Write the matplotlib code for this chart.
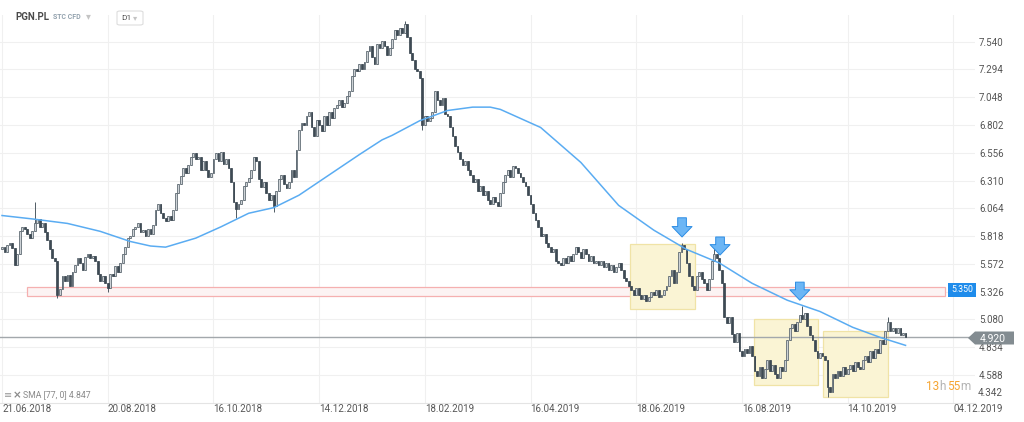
import matplotlib
matplotlib.use("Agg")
import matplotlib.pyplot as plt
from matplotlib.patches import Rectangle, Polygon, FancyBboxPatch

plt.rcParams['font.family'] = ['Roboto', 'DejaVu Sans']

# daily closes, PGN.PL from 21.06.2018 (one value per trading day)
closes = [
    5.72, 5.68, 5.74, 5.76, 5.71, 5.56, 5.66, 5.86, 5.90, 5.88,
    5.84, 5.80, 5.86, 5.93, 5.97, 5.90, 5.93, 5.85, 5.78, 5.70,
    5.62, 5.60, 5.30, 5.35, 5.46, 5.42, 5.47, 5.38, 5.50, 5.56,
    5.62, 5.58, 5.52, 5.63, 5.66, 5.62, 5.64, 5.60, 5.48, 5.42,
    5.46, 5.40, 5.36, 5.48, 5.46, 5.55, 5.50, 5.58, 5.66, 5.72,
    5.80, 5.82, 5.88, 5.90, 5.93, 5.85, 5.87, 5.82, 5.88, 5.84,
    5.92, 6.05, 6.10, 6.02, 5.98, 5.95, 6.00, 5.96, 6.05, 6.20,
    6.28, 6.35, 6.42, 6.38, 6.45, 6.52, 6.55, 6.50, 6.52, 6.40,
    6.48, 6.40, 6.34, 6.38, 6.50, 6.55, 6.48, 6.56, 6.46, 6.50,
    6.42, 6.30, 6.12, 6.06, 6.10, 6.14, 6.26, 6.30, 6.33, 6.40,
    6.52, 6.48, 6.32, 6.25, 6.30, 6.20, 6.14, 6.18, 6.08, 6.22,
    6.32, 6.36, 6.28, 6.24, 6.30, 6.40, 6.34, 6.58, 6.76, 6.82,
    6.80, 6.88, 6.92, 6.78, 6.70, 6.85, 6.80, 6.75, 6.88, 6.80,
    6.92, 6.86, 6.95, 6.98, 7.02, 6.96, 7.00, 7.06, 7.10, 7.24,
    7.30, 7.28, 7.34, 7.30, 7.36, 7.46, 7.50, 7.40, 7.34, 7.52,
    7.48, 7.55, 7.50, 7.42, 7.48, 7.56, 7.64, 7.60, 7.66, 7.62,
    7.70, 7.58, 7.44, 7.38, 7.30, 7.28, 7.22, 6.80, 6.88, 6.84,
    6.86, 6.92, 7.10, 7.02, 6.98, 7.04, 6.90, 6.88, 6.78, 6.70,
    6.62, 6.56, 6.50, 6.45, 6.48, 6.40, 6.36, 6.30, 6.32, 6.22,
    6.26, 6.18, 6.22, 6.14, 6.10, 6.16, 6.12, 6.08, 6.20, 6.30,
    6.36, 6.40, 6.34, 6.44, 6.42, 6.38, 6.34, 6.30, 6.26, 6.18,
    6.10, 6.02, 5.96, 5.90, 5.82, 5.84, 5.76, 5.72, 5.68, 5.70,
    5.60, 5.58, 5.56, 5.62, 5.58, 5.64, 5.60, 5.66, 5.72, 5.68,
    5.62, 5.70, 5.66, 5.60, 5.64, 5.58, 5.60, 5.56, 5.60, 5.54,
    5.58, 5.52, 5.56, 5.50, 5.54, 5.58, 5.52, 5.45, 5.42, 5.38,
    5.34, 5.30, 5.36, 5.30, 5.26, 5.30, 5.24, 5.28, 5.32, 5.30,
    5.34, 5.28, 5.30, 5.34, 5.38, 5.46, 5.52, 5.40, 5.50, 5.68,
    5.74, 5.70, 5.58, 5.46, 5.38, 5.34, 5.46, 5.50, 5.44, 5.40,
    5.34, 5.44, 5.60, 5.66, 5.62, 5.52, 5.40, 5.10, 5.05, 5.10,
    4.95, 4.88, 4.96, 4.80, 4.76, 4.82, 4.78, 4.84, 4.76, 4.62,
    4.58, 4.66, 4.56, 4.64, 4.72, 4.62, 4.68, 4.60, 4.56, 4.66,
    4.62, 4.72, 4.90, 5.00, 5.04, 4.98, 5.06, 5.12, 5.08, 5.14,
    5.02, 4.94, 4.90, 4.80, 4.74, 4.78, 4.76, 4.72, 4.48, 4.44,
    4.60, 4.56, 4.62, 4.58, 4.66, 4.60, 4.64, 4.68, 4.62, 4.70,
    4.66, 4.64, 4.72, 4.76, 4.70, 4.80, 4.74, 4.82, 4.78, 4.90,
    4.86, 4.98, 5.06, 4.98, 5.00, 4.96, 5.00, 4.94, 4.96, 4.92,
]
first_open = 5.70

# long wicks visible on the chart (bar index -> price)
spike_highs = {13: 6.12, 160: 7.72, 270: 5.76, 283: 5.72, 318: 5.20, 352: 5.10}
spike_lows = {22: 5.27, 42: 5.32, 93: 5.98, 108: 6.03, 167: 6.76, 197: 6.16, 328: 4.39}

# SMA(77): (bar index, value)
sma_idx = [0, 12, 26, 39, 51, 59, 65, 77, 87, 98, 108, 118, 124, 134, 142, 151,
           155, 166, 177, 187, 194, 198, 214, 230, 245, 259, 272, 285, 298, 312,
           325, 338, 349, 359]
sma_val = [6.00, 5.97, 5.93, 5.86, 5.77, 5.73, 5.72, 5.80, 5.90, 6.02, 6.07, 6.18,
           6.27, 6.42, 6.54, 6.67, 6.71, 6.84, 6.93, 6.96, 6.96, 6.94, 6.78, 6.47,
           6.09, 5.87, 5.70, 5.58, 5.40, 5.25, 5.15, 5.01, 4.92, 4.85]

date_labels = ["21.06.2018", "20.08.2018", "16.10.2018", "14.12.2018", "18.02.2019",
               "16.04.2019", "18.06.2019", "16.08.2019", "14.10.2019", "04.12.2019"]
label_step = 42

price_ticks = [4.588, 4.834, 5.080, 5.326, 5.572, 5.818, 6.064, 6.310,
               6.556, 6.802, 7.048, 7.294, 7.540]

level = 5.350
level_band = (5.288, 5.370)
last_price = 4.920
# consolidation boxes: (first bar, last bar, low, high)
boxes = [(249.5, 275.3, 5.172, 5.748), (298.8, 324.2, 4.499, 5.084), (326.2, 352.0, 4.393, 4.978)]
# arrows: (bar, top, tip)
arrows = [(270.2, 5.98, 5.81), (285.3, 5.81, 5.65), (317.0, 5.41, 5.25)]

W, H = 1024, 422
fig = plt.figure(figsize=(W / 100, H / 100), dpi=100)
fig.patch.set_facecolor('white')
ax = fig.add_axes([0, 19.5 / H, 975 / W, 387.5 / H])
ax.set_xlim(-0.8, 386.6)
ax.set_ylim(4.344, 7.776)

for s in ['top', 'left', 'right']:
    ax.spines[s].set_visible(False)
ax.spines['bottom'].set_color('#e4e4e4')

ax.set_yticks(price_ticks)
ax.set_yticklabels(["%.3f" % v for v in price_ticks])
ax.yaxis.tick_right()
ax.set_xticks([k * label_step for k in range(len(date_labels))])
ax.set_xticklabels(date_labels)
for lab in ax.get_xticklabels():
    lab.set_horizontalalignment('left')
ax.tick_params(length=0, labelsize=7, labelcolor='#555555')
ax.tick_params(axis='y', pad=3)
ax.tick_params(axis='x', pad=1)
ax.grid(color='#f0f0f0', lw=0.8)
ax.set_axisbelow(True)
ax.text(1.003, 0.011, "4.342", transform=ax.transAxes, fontsize=7, color='#555555',
        ha='left', va='bottom')

# band + boxes
ax.add_patch(Rectangle((9.9, level_band[0]), 374.6 - 9.9, level_band[1] - level_band[0],
                       fc='#fcf3f3', ec='#f5b0b0', lw=0.9, zorder=1))
for x0, x1, lo, hi in boxes:
    ax.add_patch(Rectangle((x0, lo), x1 - x0, hi - lo, fc='#faf4d4', ec='#f0e3a6',
                           lw=0.9, zorder=1))

# candles
opens = [first_open] + closes[:-1]
xs = list(range(len(closes)))
highs = [max(o, c, spike_highs.get(i, 0)) for i, (o, c) in enumerate(zip(opens, closes))]
lows = [min(o, c, spike_lows.get(i, 99)) for i, (o, c) in enumerate(zip(opens, closes))]
ax.vlines(xs, lows, highs, color='#4f5b64', lw=0.7, zorder=3)
up = [c >= o for o, c in zip(opens, closes)]
ax.bar([x for x, u in zip(xs, up) if u],
       [c - o for o, c, u in zip(opens, closes, up) if u],
       bottom=[o for o, u in zip(opens, up) if u],
       width=0.72, color='#cdd2d6', edgecolor='#56626b', lw=0.55, zorder=4)
ax.bar([x for x, u in zip(xs, up) if not u],
       [o - c for o, c, u in zip(opens, closes, up) if not u],
       bottom=[c for c, u in zip(closes, up) if not u],
       width=0.72, color='#3e4a54', edgecolor='#3e4a54', lw=0.55, zorder=4)

ax.plot(sma_idx, sma_val, color='#5aacf2', lw=1.1, zorder=5)
ax.axhline(last_price, color='#a3a8ac', lw=1, zorder=2)

for x, top, tip in arrows:
    ax.annotate('', xy=(x, tip), xytext=(x, top),
                arrowprops=dict(arrowstyle='simple,head_length=0.6,head_width=1.15,tail_width=0.5',
                                fc='#6cb6f5', ec='#2d8de4', lw=0.7, mutation_scale=12.5,
                                shrinkA=0, shrinkB=0),
                zorder=6)

ax.text(385.8, 5.343, "5.350", ha='right', va='center', fontsize=6.3, color='white', zorder=7,
        bbox=dict(boxstyle='square,pad=0.3', fc='#1f8ceb', ec='none'))

# last price tag (pixels -> figure fraction)
def fy(y):
    return (H - y) / H

tag = Polygon([(968 / W, fy(338)), (975 / W, fy(331.5)), (1014 / W, fy(331.5)),
               (1014 / W, fy(344.5)), (975 / W, fy(344.5))], closed=True,
              transform=fig.transFigure, fc='#838c91', ec='none', zorder=10)
fig.add_artist(tag)
fig.text(993 / W, fy(338.5), "%.3f" % last_price, color='white', fontsize=7.5,
         ha='center', va='center', zorder=11)

# countdown
fig.text(926 / W, fy(387), "13", color='#f6a531', fontsize=8.5, va='center')
fig.text(939 / W, fy(387), "h", color='#b3b3b3', fontsize=8.5, va='center')
fig.text(947 / W, fy(387), "55", color='#f6a531', fontsize=8.5, va='center')
fig.text(960 / W, fy(387), "m", color='#b3b3b3', fontsize=8.5, va='center')

# legend of the indicator
fig.text(4 / W, fy(395), "≡", color='#9a9a9a', fontsize=7, va='center', family=['DejaVu Sans'])
fig.text(13 / W, fy(395), "×", color='#8a8a8a', fontsize=7.5, va='center', weight='bold',
         family=['DejaVu Sans'])
fig.text(23 / W, fy(395), "SMA [77, 0] 4.847", color='#8a8a8a', fontsize=6.3, va='center')

# header
fig.text(15 / W, fy(17), "PGN.PL", color='#4a4a4a', fontsize=7, weight='bold', va='center')
fig.text(53 / W, fy(17), "STC CFD", color='#93a2ae', fontsize=5, weight='bold', va='center')
fig.text(86 / W, fy(16), "▾", color='#c4c4c4', fontsize=7, va='center', family=['DejaVu Sans'])
fig.add_artist(FancyBboxPatch((117 / W, fy(25)), 26 / W, 14 / H,
                              boxstyle='round,pad=0,rounding_size=0.003',
                              transform=fig.transFigure, fc='white', ec='#dddddd', lw=0.8))
fig.text(121 / W, fy(18), "D1", color='#555555', fontsize=6, va='center')
fig.text(133 / W, fy(17.5), "▾", color='#c4c4c4', fontsize=6, va='center', family=['DejaVu Sans'])

fig.savefig("out.png", dpi=100)
